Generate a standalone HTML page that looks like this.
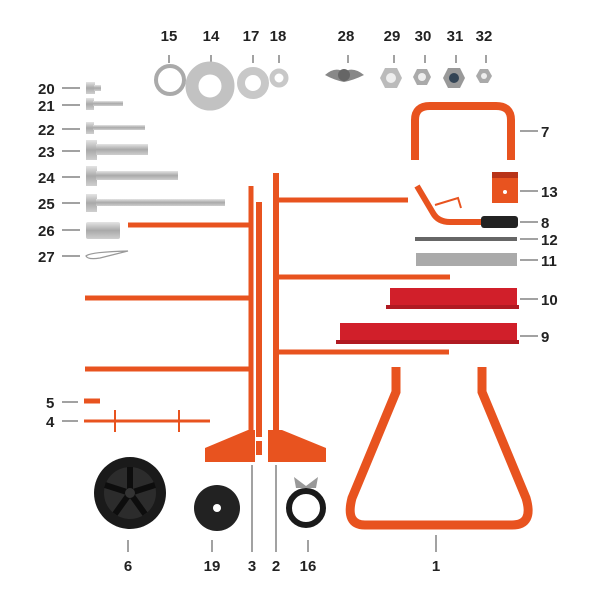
<!DOCTYPE html>
<html><head><meta charset="utf-8"><style>
html,body{margin:0;padding:0;background:#fff;width:600px;height:600px;overflow:hidden}
text{font-family:"Liberation Sans",Arial,sans-serif;font-weight:bold;font-size:15px;fill:#222}
</style></head><body>
<svg width="600" height="600" viewBox="0 0 600 600" xmlns="http://www.w3.org/2000/svg">
<defs>
<linearGradient id="g" x1="0" y1="0" x2="0" y2="1"><stop offset="0" stop-color="#e4e4e4"/><stop offset="0.5" stop-color="#a9a9a9"/><stop offset="1" stop-color="#cfcfcf"/></linearGradient>
</defs>
<g text-anchor="middle">
<text x="169" y="41">15</text><text x="211" y="41">14</text><text x="251" y="41">17</text><text x="278" y="41">18</text>
<text x="346" y="41">28</text><text x="392" y="41">29</text><text x="423" y="41">30</text><text x="455" y="41">31</text><text x="484" y="41">32</text>
<text x="128" y="571">6</text><text x="212" y="571">19</text><text x="252" y="571">3</text><text x="276" y="571">2</text><text x="308" y="571">16</text><text x="436" y="571">1</text>
</g>
<g stroke="#444" stroke-width="1">
<line x1="169" y1="55" x2="169" y2="63"/><line x1="211" y1="55" x2="211" y2="63"/><line x1="253" y1="55" x2="253" y2="63"/><line x1="279" y1="55" x2="279" y2="63"/>
<line x1="348" y1="55" x2="348" y2="63"/><line x1="394" y1="55" x2="394" y2="63"/><line x1="425" y1="55" x2="425" y2="63"/><line x1="456" y1="55" x2="456" y2="63"/><line x1="486" y1="55" x2="486" y2="63"/>
<line x1="128" y1="540" x2="128" y2="552"/><line x1="212" y1="540" x2="212" y2="552"/><line x1="252" y1="465" x2="252" y2="552"/><line x1="276" y1="465" x2="276" y2="552"/><line x1="308" y1="540" x2="308" y2="552"/><line x1="436" y1="535" x2="436" y2="552"/>
<line x1="62" y1="88" x2="80" y2="88"/><line x1="62" y1="105" x2="80" y2="105"/><line x1="62" y1="129" x2="80" y2="129"/><line x1="62" y1="151" x2="80" y2="151"/><line x1="62" y1="177" x2="80" y2="177"/><line x1="62" y1="203" x2="80" y2="203"/><line x1="62" y1="230" x2="80" y2="230"/><line x1="62" y1="256" x2="80" y2="256"/>
<line x1="62" y1="402" x2="78" y2="402"/><line x1="62" y1="421" x2="78" y2="421"/>
<line x1="520" y1="131" x2="538" y2="131"/><line x1="520" y1="191" x2="538" y2="191"/><line x1="520" y1="222" x2="538" y2="222"/><line x1="520" y1="239" x2="538" y2="239"/><line x1="520" y1="260" x2="538" y2="260"/><line x1="520" y1="299" x2="538" y2="299"/><line x1="520" y1="336" x2="538" y2="336"/>
</g>
<g text-anchor="start">
<text x="38" y="94">20</text><text x="38" y="111">21</text><text x="38" y="135">22</text><text x="38" y="157">23</text><text x="38" y="183">24</text><text x="38" y="209">25</text><text x="38" y="236">26</text><text x="38" y="262">27</text>
<text x="46" y="408">5</text><text x="46" y="427">4</text>
<text x="541" y="137">7</text><text x="541" y="197">13</text><text x="541" y="228">8</text><text x="541" y="245">12</text><text x="541" y="266">11</text><text x="541" y="305">10</text><text x="541" y="342">9</text>
</g>
<!-- washers -->
<circle cx="170" cy="80" r="14" fill="none" stroke="#aaa" stroke-width="4"/>
<circle cx="210" cy="86" r="18" fill="none" stroke="#c2c2c2" stroke-width="13"/>
<circle cx="253" cy="83" r="12" fill="none" stroke="#c8c8c8" stroke-width="8"/>
<circle cx="279" cy="78" r="7" fill="none" stroke="#c8c8c8" stroke-width="5"/>
<!-- nuts -->
<path d="M325 75 Q335 66 344 72 Q353 66 364 75 Q354 80 344 82 Q334 80 325 75Z" fill="#888"/>
<circle cx="344" cy="75" r="6" fill="#666"/>
<polygon points="380,78 385,68 397,68 402,78 397,88 385,88" fill="#bbb"/><circle cx="391" cy="78" r="5" fill="#eee"/>
<polygon points="413,77 417,69 427,69 431,77 427,85 417,85" fill="#aaa"/><circle cx="422" cy="77" r="4" fill="#eee"/>
<polygon points="443,78 448,68 460,68 465,78 460,88 448,88" fill="#999"/><circle cx="454" cy="78" r="5" fill="#345"/>
<polygon points="476,76 480,69 488,69 492,76 488,83 480,83" fill="#aaa"/><circle cx="484" cy="76" r="3" fill="#eee"/>
<!-- bolts -->
<g fill="url(#g)">
<rect x="86" y="82" width="9" height="12"/><rect x="94" y="85" width="7" height="6"/>
<rect x="86" y="98" width="8" height="12"/><rect x="93" y="101" width="30" height="5"/>
<rect x="86" y="122" width="8" height="12"/><rect x="93" y="125" width="52" height="5"/>
<rect x="86" y="140" width="11" height="20"/><rect x="96" y="144" width="52" height="11"/>
<rect x="86" y="166" width="11" height="20"/><rect x="96" y="171" width="82" height="9"/>
<rect x="86" y="194" width="11" height="18"/><rect x="96" y="199" width="129" height="7"/>
<rect x="86" y="222" width="34" height="17" rx="2"/>
</g>
<path d="M86 256 Q90 252 128 251 L100 258 Q88 260 86 256Z" fill="none" stroke="#999" stroke-width="1.3"/>
<!-- frame tubes -->
<g stroke="#e8531f" stroke-linecap="butt" fill="none">
<line x1="128" y1="225" x2="252" y2="225" stroke-width="5"/>
<line x1="85" y1="298" x2="252" y2="298" stroke-width="5"/>
<line x1="85" y1="369" x2="252" y2="369" stroke-width="5"/>
<line x1="251" y1="186" x2="251" y2="455" stroke-width="5"/>
<line x1="259" y1="202" x2="259" y2="455" stroke-width="6"/>
<line x1="276" y1="173" x2="276" y2="455" stroke-width="6"/>
<line x1="278" y1="200" x2="408" y2="200" stroke-width="5"/>
<line x1="278" y1="277" x2="450" y2="277" stroke-width="5"/>
<line x1="278" y1="352" x2="449" y2="352" stroke-width="5"/>
<line x1="84" y1="401" x2="100" y2="401" stroke-width="5"/>
<line x1="84" y1="421" x2="210" y2="421" stroke-width="3"/>
<line x1="115" y1="410" x2="115" y2="432" stroke-width="2"/>
<line x1="179" y1="410" x2="179" y2="432" stroke-width="2"/>
<!-- part 7 -->
<path d="M415 160 V120 Q415 106 430 106 H496 Q511 106 511 120 V160" stroke-width="8"/>
<!-- part 8 -->
<path d="M417 186 L433 213 Q438 222 450 222 H485" stroke-width="6"/>
<path d="M435 205 L458 198 L461 208" stroke-width="2"/>
<!-- part 1 -->
<path d="M396 367 V392 L352 498 Q345 525 365 525 H512 Q534 525 526 498 L482 392 V367" stroke-width="9"/>
</g>
<!-- base plates -->
<path d="M205 448 L248 430 L255 430 V462 H205Z" fill="#e8531f"/>
<path d="M268 430 H282 L326 448 V462 H268Z" fill="#e8531f"/>
<rect x="255" y="437" width="13" height="4" fill="#fff"/>
<!-- part 13 -->
<polygon points="492,172 514,172 518,178 518,203 492,203" fill="#e8531f"/>
<rect x="492" y="172" width="26" height="6" fill="#b83318"/>
<circle cx="505" cy="192" r="2" fill="#fff"/>
<!-- grip -->
<rect x="481" y="216" width="37" height="12" rx="3" fill="#222"/>
<!-- 12, 11 -->
<rect x="415" y="237" width="102" height="4" fill="#666"/>
<rect x="416" y="253" width="101" height="13" fill="#aaa"/>
<!-- trays -->
<rect x="390" y="288" width="127" height="18" fill="#d11f2a"/><rect x="386" y="305" width="133" height="4" fill="#b01a22"/>
<rect x="340" y="323" width="177" height="18" fill="#d11f2a"/><rect x="336" y="340" width="183" height="4" fill="#b01a22"/>
<!-- wheel 6 -->
<circle cx="130" cy="493" r="36" fill="#1a1a1a"/>
<circle cx="130" cy="493" r="26" fill="#2c2c2c"/>
<g stroke="#0d0d0d" stroke-width="6"><line x1="130" y1="493" x2="130" y2="467"/><line x1="130" y1="493" x2="155" y2="485"/><line x1="130" y1="493" x2="145" y2="514"/><line x1="130" y1="493" x2="115" y2="514"/><line x1="130" y1="493" x2="105" y2="485"/></g>
<circle cx="130" cy="493" r="5" fill="#333"/>
<!-- 19 -->
<circle cx="217" cy="508" r="23" fill="#222"/><circle cx="217" cy="508" r="4" fill="#fff"/>
<!-- 16 -->
<circle cx="306" cy="508" r="17" fill="none" stroke="#1a1a1a" stroke-width="6"/>
<path d="M294 477 L306 486 L318 477 L316 488 L296 488Z" fill="#999"/>
</svg>
</body></html>
